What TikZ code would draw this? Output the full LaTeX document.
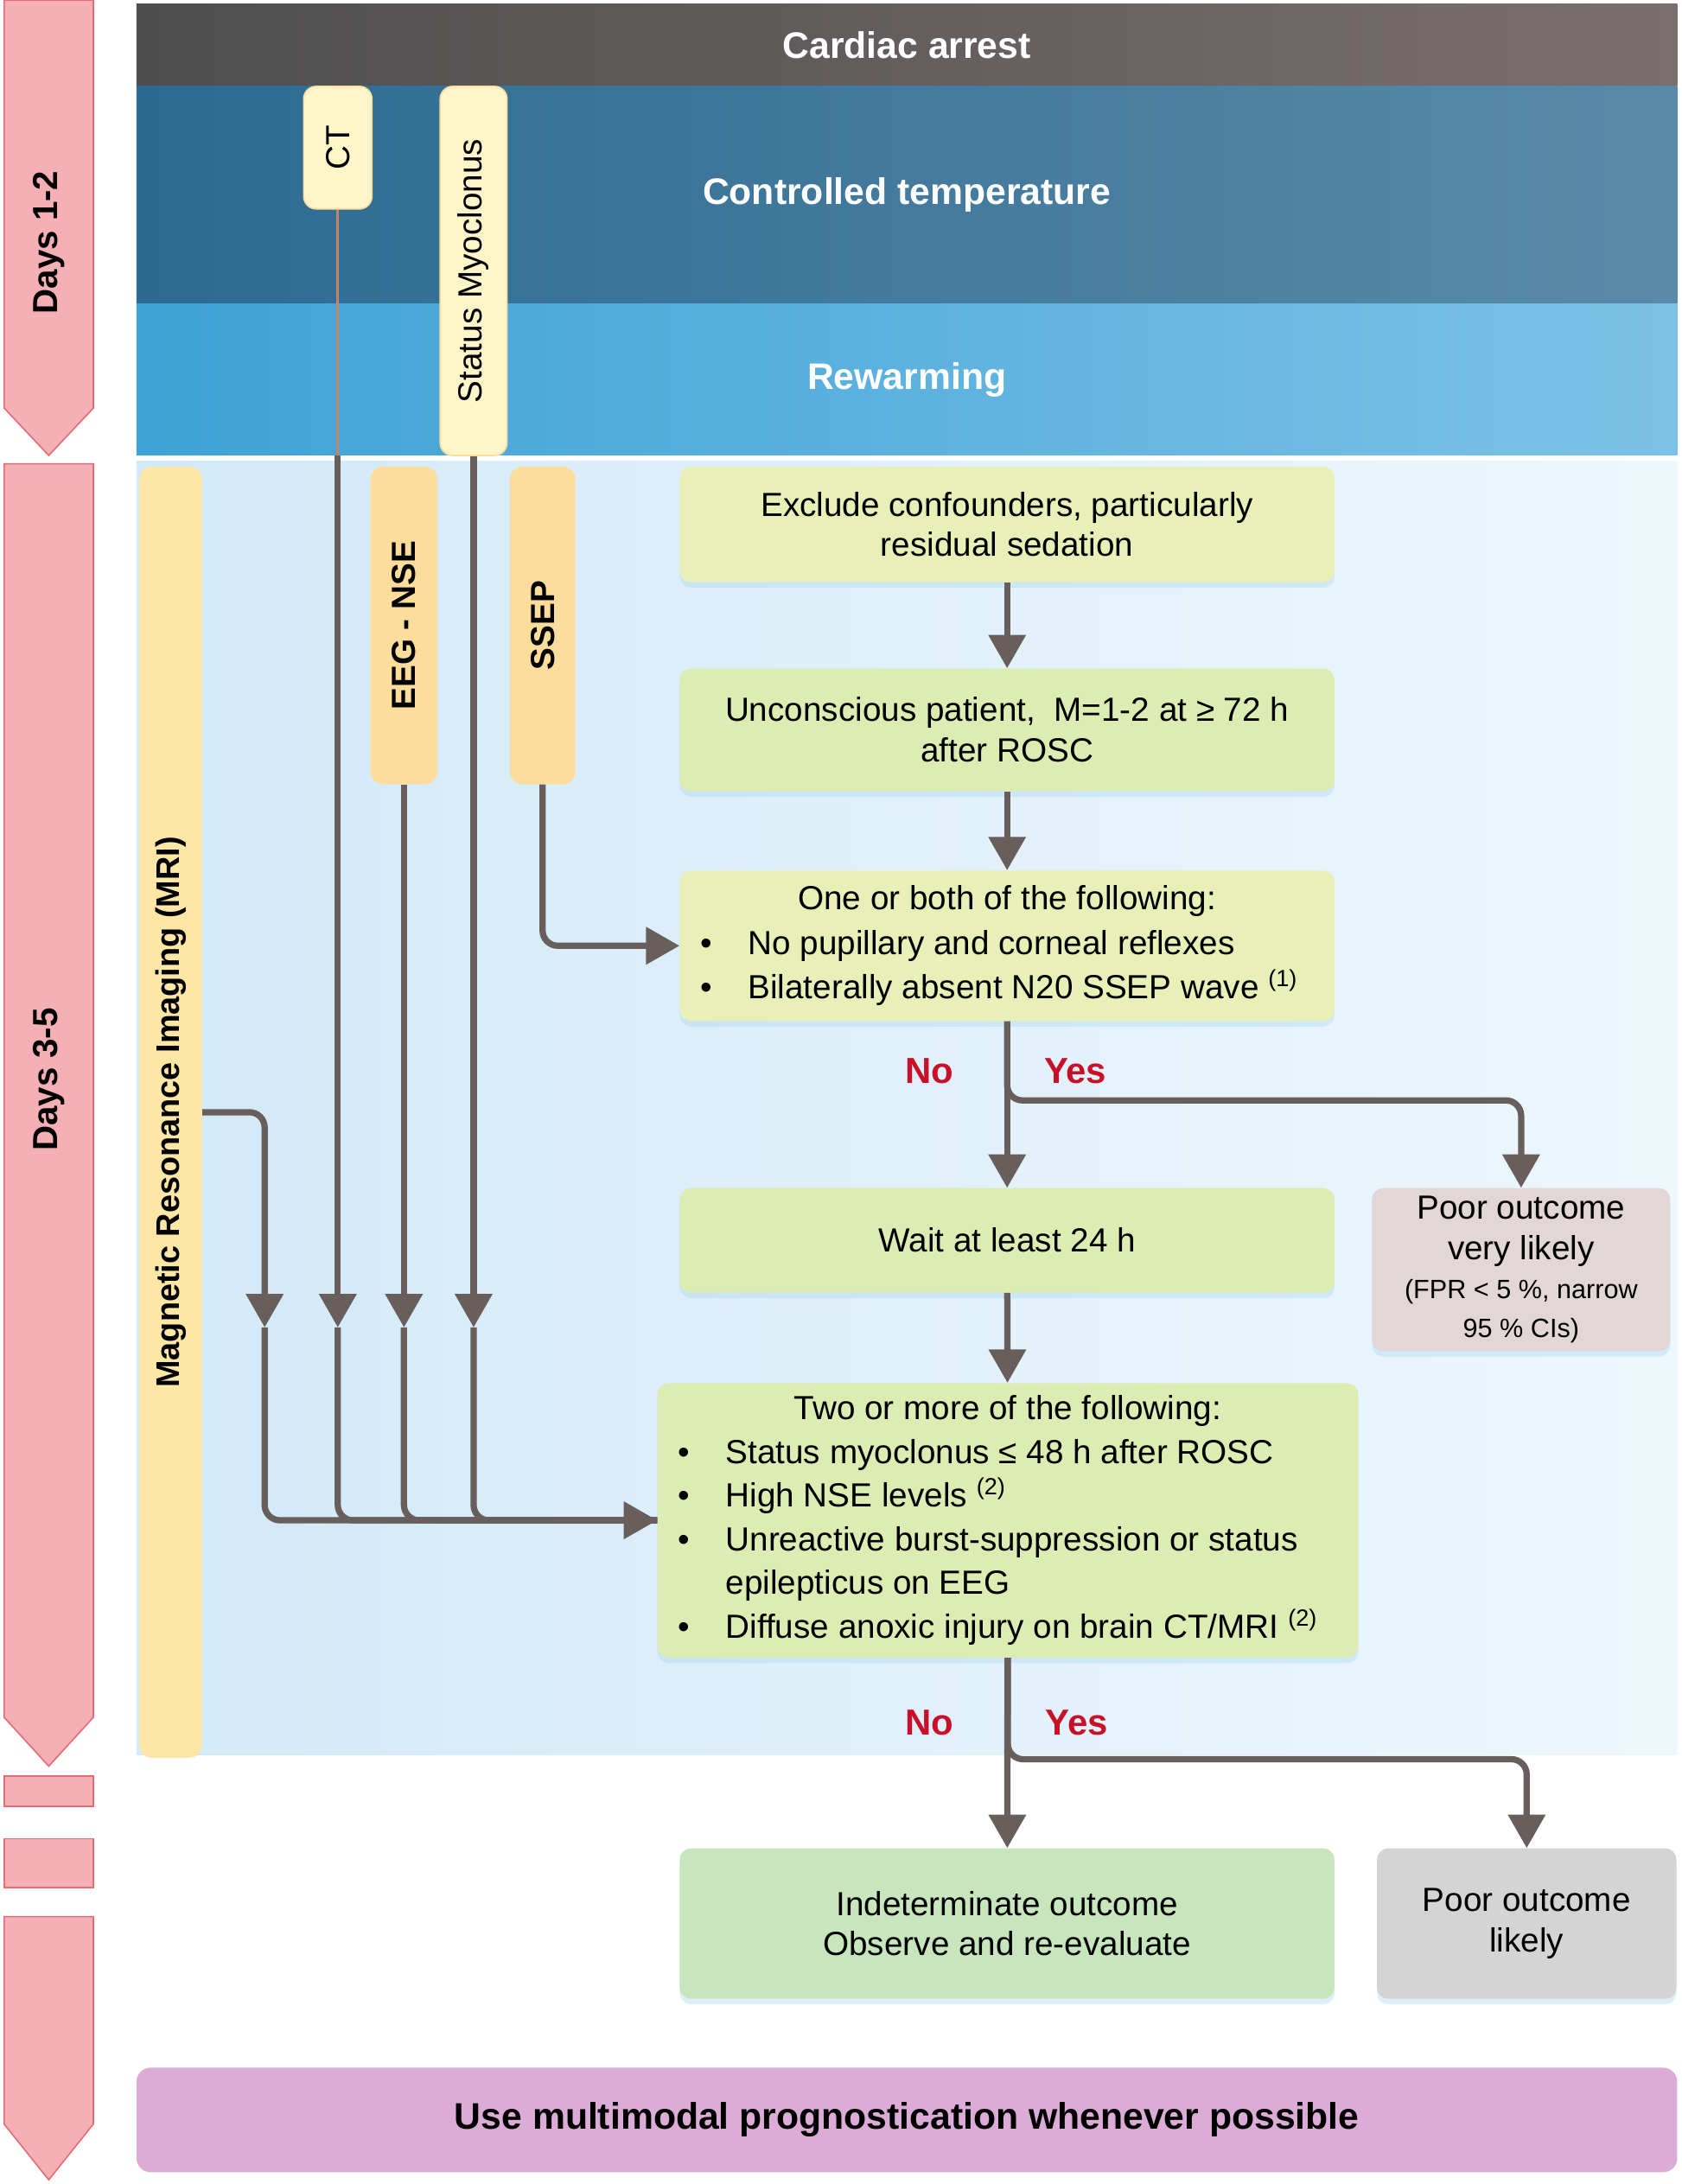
\documentclass[tikz,border=0pt]{standalone}
\usepackage{fontspec}
\setmainfont{Liberation Sans}
\usepackage{graphicx}
\usetikzlibrary{arrows.meta,shadows}

\definecolor{connC}{RGB}{104,94,92}
\definecolor{thinC}{RGB}{196,132,104}
\definecolor{pinkF}{RGB}{245,176,182}
\definecolor{pinkD}{RGB}{228,108,118}
\definecolor{caL}{RGB}{78,78,78}
\definecolor{caR}{RGB}{122,110,110}
\definecolor{ctL}{RGB}{44,106,146}
\definecolor{ctR}{RGB}{90,138,168}
\definecolor{rwL}{RGB}{62,162,214}
\definecolor{rwR}{RGB}{124,194,230}
\definecolor{bgL}{RGB}{210,233,248}
\definecolor{bgR}{RGB}{238,247,252}
\definecolor{mriC}{RGB}{254,231,166}
\definecolor{lyel}{RGB}{255,245,200}
\definecolor{oyel}{RGB}{253,221,156}
\definecolor{gA}{RGB}{232,240,184}
\definecolor{gB}{RGB}{220,236,178}
\definecolor{gC}{RGB}{200,230,190}
\definecolor{pvC}{RGB}{226,214,214}
\definecolor{plC}{RGB}{212,212,212}
\definecolor{purp}{RGB}{218,172,214}
\definecolor{redT}{RGB}{200,16,40}
\definecolor{shC}{RGB}{180,220,242}

\newcommand\bul{\makebox[34pt][l]{\textbullet}}

\begin{document}
\begin{tikzpicture}[x=1pt,y=-1pt,
  cn/.style={draw=connC, line width=4.5pt},
  rc/.style={rounded corners=11pt},
  arr/.style={-{Triangle[width=26pt,length=24pt]}},
  fbox/.style={rounded corners=8pt, inner sep=0pt, align=center,
    font=\fontsize{24}{29}\selectfont,
    drop shadow={shadow xshift=0pt, shadow yshift=-4pt, fill=shC, opacity=0.45}},
  vbox/.style={rounded corners=9pt, inner sep=0pt, font=\fontsize{24}{29}\selectfont},
  band/.style={inner sep=0pt, font=\fontsize{26.5}{30}\selectfont\bfseries, text=white},
  yn/.style={inner sep=0pt, font=\fontsize{26}{30}\selectfont\bfseries, text=redT},
  dayl/.style={inner sep=0pt, font=\fontsize{25}{30}\selectfont\bfseries},
  pinkarrow/.style={fill=pinkF, draw=pinkD, line width=1pt}
]
\useasboundingbox (0,0) rectangle (1207,1568);
\fill[white] (0,0) rectangle (1207,1568);

% day arrows
\path[pinkarrow] (3,0) -- (67,0) -- (67,293) -- (35,327) -- (3,293) -- cycle;
\path[pinkarrow] (3,333) -- (67,333) -- (67,1233) -- (35,1268) -- (3,1233) -- cycle;
\path[pinkarrow] (3,1275) rectangle (67,1297);
\path[pinkarrow] (3,1320) rectangle (67,1355);
\path[pinkarrow] (3,1376) -- (67,1376) -- (67,1525) -- (35,1565) -- (3,1525) -- cycle;
\node[dayl] (d12) at (35,174) {\rotatebox{90}{Days 1-2}};
\node[dayl] (d35) at (35,775) {\rotatebox{90}{Days 3-5}};

% light background of days 3-5
\shade[left color=bgL, right color=bgR] (98,331) rectangle (1204,1260);

% bands
\node[band, left color=caL, right color=caR, minimum width=1106pt, minimum height=59pt] (ca) at (651,32.5) {Cardiac arrest};
\node[band, left color=ctL, right color=ctR, minimum width=1106pt, minimum height=156pt] (temp) at (651,140) {Controlled temperature};
\node[band, left color=rwL, right color=rwR, minimum width=1106pt, minimum height=109pt] (rw) at (651,272.5) {Rewarming};

% bottom band
\node[band, text=black, fill=purp, rounded corners=10pt, minimum width=1106pt, minimum height=75pt] (multi) at (651,1522) {Use multimodal prognostication whenever possible};

% test boxes
\node[vbox, fill=mriC, minimum width=45pt, minimum height=927pt, font=\fontsize{23.5}{28}\selectfont\bfseries] (mri) at (122.5,798.5) {\rotatebox{90}{Magnetic Resonance Imaging (MRI)}};
\node[vbox, fill=lyel, draw=oyel, line width=1pt, minimum width=49pt, minimum height=88pt] (ct) at (242.5,106) {\rotatebox{90}{CT}};
\node[vbox, fill=lyel, draw=oyel, line width=1pt, minimum width=48pt, minimum height=265pt] (sm) at (340,194.5) {\rotatebox{90}{Status Myoclonus}};
\node[vbox, fill=oyel, minimum width=48pt, minimum height=228pt, font=\fontsize{24}{29}\selectfont\bfseries] (eeg) at (290,449) {\rotatebox{90}{EEG - NSE}};
\node[vbox, fill=oyel, minimum width=47pt, minimum height=228pt, font=\fontsize{24}{29}\selectfont\bfseries] (ssep) at (389.5,449) {\rotatebox{90}{SSEP}};

% flow boxes
\node[fbox, fill=gA, minimum width=470pt, minimum height=83pt] (b1) at (723,376.5) {Exclude confounders, particularly\\residual sedation};
\node[fbox, fill=gB, minimum width=470pt, minimum height=88pt] (b2) at (723,524) {Unconscious patient,\ \ M=1-2 at ≥ 72 h\\after ROSC};
\node[fbox, fill=gA, minimum width=470pt, minimum height=108pt] (b3) at (723,679) {\begin{minipage}{440pt}\fontsize{24}{32}\selectfont\centering One or both of the following:\par\raggedright\bul No pupillary and corneal reflexes\\\bul Bilaterally absent N20 SSEP wave \textsuperscript{(1)}\par\end{minipage}};
\node[fbox, fill=gB, minimum width=470pt, minimum height=75pt] (b4) at (723,890.5) {Wait at least 24 h};
\node[fbox, fill=pvC, minimum width=214pt, minimum height=117pt] (pv) at (1092,911.5) {\begin{minipage}{212pt}\centering\fontsize{24}{29}\selectfont Poor outcome\\very likely\par\fontsize{19}{28}\selectfont (FPR < 5 \%, narrow\\95 \% CIs)\par\end{minipage}};
\node[fbox, fill=gB, minimum width=503pt, minimum height=197pt] (b5) at (723.5,1091.5) {\begin{minipage}{473pt}\fontsize{24}{31.4}\selectfont\centering Two or more of the following:\par\raggedright\bul Status myoclonus ≤ 48 h after ROSC\\\bul High NSE levels \textsuperscript{(2)}\\\bul Unreactive burst-suppression or status\\\hspace*{34pt}epilepticus on EEG\\\bul Diffuse anoxic injury on brain CT/MRI \textsuperscript{(2)}\par\end{minipage}};
\node[fbox, fill=gC, minimum width=470pt, minimum height=108pt] (b6) at (723,1381) {Indeterminate outcome\\Observe and re-evaluate};
\node[fbox, fill=plC, minimum width=215pt, minimum height=108pt] (pl) at (1096,1381) {Poor outcome\\likely};

% yes / no labels
\node[yn] (no1) at (667,769) {No};
\node[yn] (yes1) at (772,769) {Yes};
\node[yn] (no2) at (667,1237) {No};
\node[yn] (yes2) at (773,1237) {Yes};

% coordinates
\coordinate (tM) at (190,953);
\coordinate (ctb) at (242.5,327);
\coordinate (j1) at (0,790);
\coordinate (j2) at (0,1263);

% main flow connectors
\draw[cn, arr] (b1) -- (b2);
\draw[cn, arr] (b2) -- (b3);
\draw[cn, arr] (b3) -- (b4);
\draw[cn, rc, arr] (b3.south) -- (b3.south |- j1) -| (pv.north);
\draw[cn, arr] (b4) -- (b5);
\draw[cn, arr] (b5) -- (b6);
\draw[cn, rc, arr] (b5.south) -- (b5.south |- j2) -| (pl.north);

% test connectors
\draw[cn, rc, arr] (ssep.south) |- (b3.west);
\draw[draw=thinC, line width=2pt] (ct.south) -- (ctb);
\draw[cn, rc, arr] (mri.east) -| (tM);
\draw[cn, arr] (ctb) -- (ctb |- tM);
\draw[cn, arr] (eeg.south) -- (eeg.south |- tM);
\draw[cn, arr] (sm.south) -- (sm.south |- tM);
\draw[cn, rc] (ctb |- tM) |- (b5.west);
\draw[cn, rc] (eeg.south |- tM) |- (b5.west);
\draw[cn, rc] (sm.south |- tM) |- (b5.west);
\draw[cn, rc, arr] (tM) |- (b5.west);
\end{tikzpicture}
\end{document}
